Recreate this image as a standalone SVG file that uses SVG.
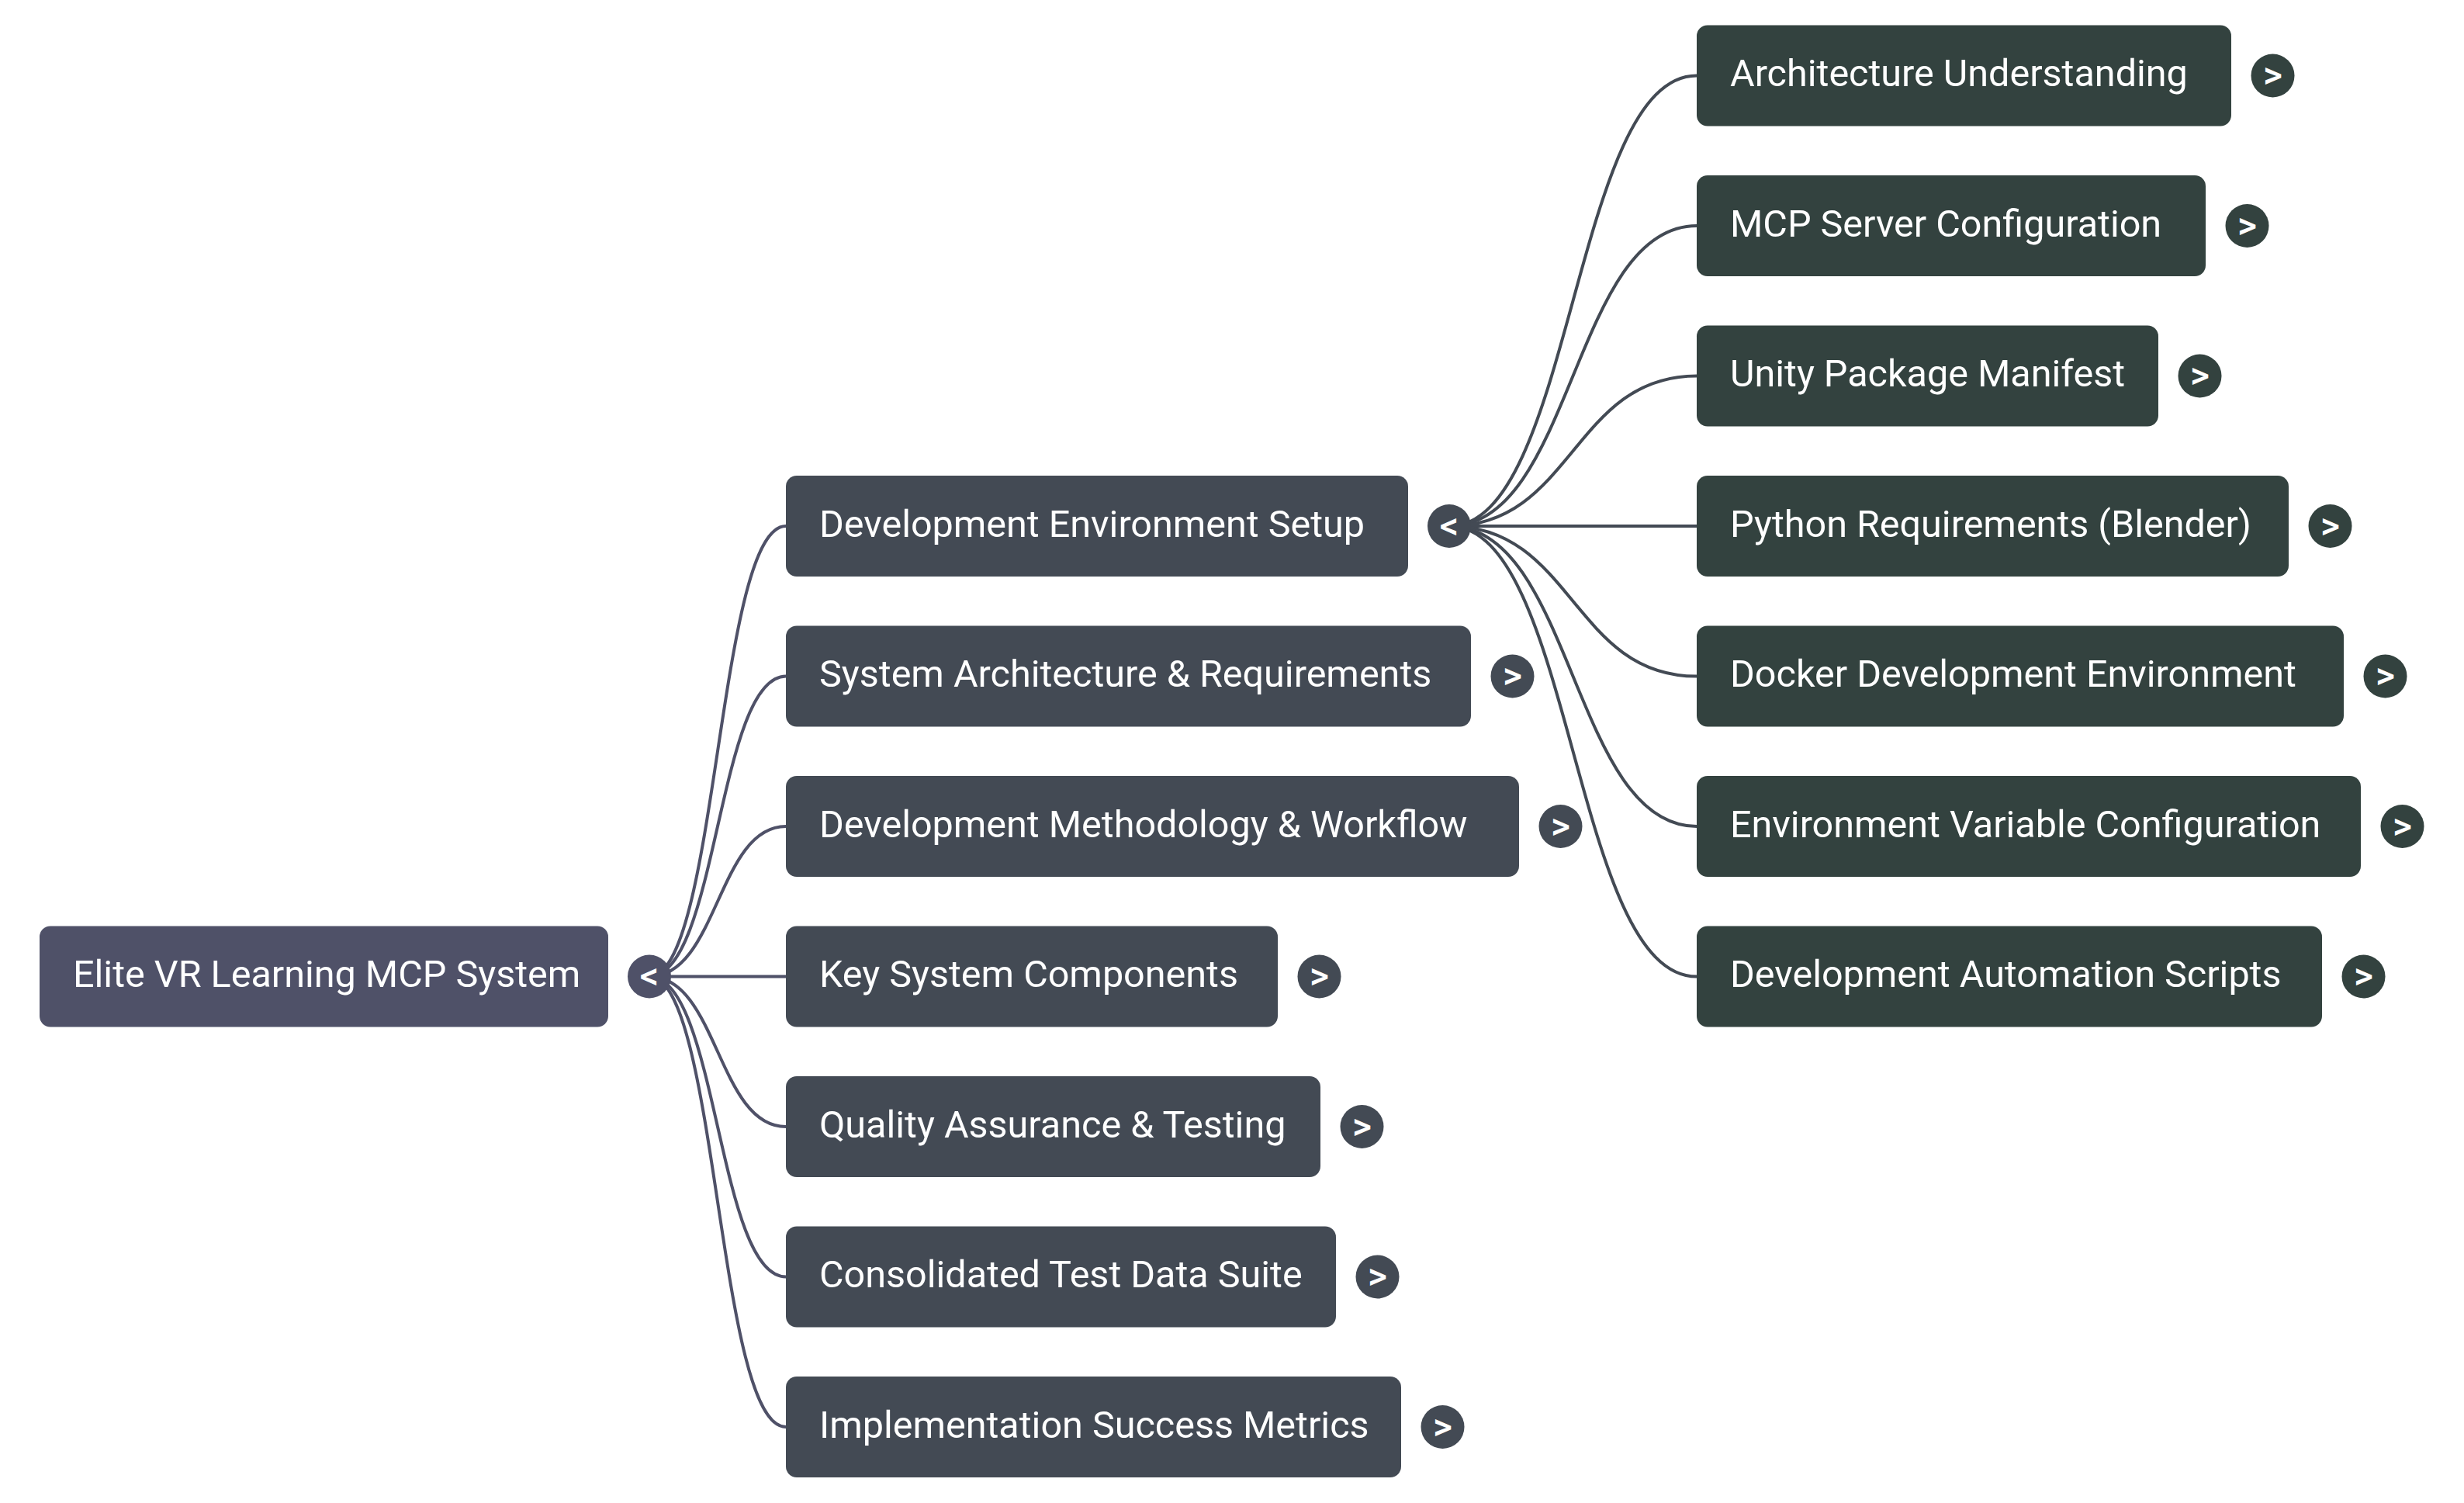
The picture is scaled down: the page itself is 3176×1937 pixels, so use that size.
<svg xmlns="http://www.w3.org/2000/svg" width="3176" height="1937" viewBox="0 0 3176 1937">
<style>
.lbl{font-family:Roboto,"Liberation Sans",sans-serif;font-size:48.5px;fill:#ffffff}
.tog{font-family:Roboto,"Liberation Sans",sans-serif;font-size:48px;font-weight:500;fill:#ffffff;text-anchor:middle}
.root{fill:#4f5168}
.mid{fill:#434a54}
.leaf{fill:#33423f}
.l-root{fill:none;stroke:#4f5168;stroke-width:4}
.l-mid{fill:none;stroke:#434a54;stroke-width:4}
</style>
<rect width="3176" height="1937" fill="#ffffff"/>
<g id="connectors">
<path class="l-root" d="M837 1258.5 C925 1258.5 925 678 1013 678"/>
<path class="l-root" d="M837 1258.5 C925 1258.5 925 871.5 1013 871.5"/>
<path class="l-root" d="M837 1258.5 C925 1258.5 925 1065 1013 1065"/>
<path class="l-root" d="M837 1258.5 L1013 1258.5"/>
<path class="l-root" d="M837 1258.5 C925 1258.5 925 1452 1013 1452"/>
<path class="l-root" d="M837 1258.5 C925 1258.5 925 1645.5 1013 1645.5"/>
<path class="l-root" d="M837 1258.5 C925 1258.5 925 1839 1013 1839"/>
<path class="l-mid" d="M1868 678 C2027.5 678 2027.5 97.5 2187 97.5"/>
<path class="l-mid" d="M1868 678 C2027.5 678 2027.5 291 2187 291"/>
<path class="l-mid" d="M1868 678 C2027.5 678 2027.5 484.5 2187 484.5"/>
<path class="l-mid" d="M1868 678 L2187 678"/>
<path class="l-mid" d="M1868 678 C2027.5 678 2027.5 871.5 2187 871.5"/>
<path class="l-mid" d="M1868 678 C2027.5 678 2027.5 1065 2187 1065"/>
<path class="l-mid" d="M1868 678 C2027.5 678 2027.5 1258.5 2187 1258.5"/>
</g>
<g id="root-node">
<rect class="root" x="51" y="1193.5" width="733" height="130" rx="14"/>
<text class="lbl" x="94" y="1272">Elite VR Learning MCP System</text>
<circle class="root" cx="837" cy="1258.5" r="28"/>
<text class="tog" x="837" y="1274">&lt;</text>
</g>
<g id="n-devenv">
<rect class="mid" x="1013" y="613" width="802" height="130" rx="14"/>
<text class="lbl" x="1056" y="691.5">Development Environment Setup</text>
<circle class="mid" cx="1868" cy="678" r="28"/>
<text class="tog" x="1868" y="693.5">&lt;</text>
</g>
<g id="n-sysarch">
<rect class="mid" x="1013" y="806.5" width="883" height="130" rx="14"/>
<text class="lbl" x="1056" y="885">System Architecture &amp; Requirements</text>
<circle class="mid" cx="1949.5" cy="871.5" r="28"/>
<text class="tog" x="1949.5" y="887">&gt;</text>
</g>
<g id="n-devmethod">
<rect class="mid" x="1013" y="1000" width="945" height="130" rx="14"/>
<text class="lbl" x="1056" y="1078.5">Development Methodology &amp; Workflow</text>
<circle class="mid" cx="2011.5" cy="1065" r="28"/>
<text class="tog" x="2011.5" y="1080.5">&gt;</text>
</g>
<g id="n-keysys">
<rect class="mid" x="1013" y="1193.5" width="634" height="130" rx="14"/>
<text class="lbl" x="1056" y="1272">Key System Components</text>
<circle class="mid" cx="1700.5" cy="1258.5" r="28"/>
<text class="tog" x="1700.5" y="1274">&gt;</text>
</g>
<g id="n-qa">
<rect class="mid" x="1013" y="1387" width="689" height="130" rx="14"/>
<text class="lbl" x="1056" y="1465.5">Quality Assurance &amp; Testing</text>
<circle class="mid" cx="1755.5" cy="1452" r="28"/>
<text class="tog" x="1755.5" y="1467.5">&gt;</text>
</g>
<g id="n-testdata">
<rect class="mid" x="1013" y="1580.5" width="709" height="130" rx="14"/>
<text class="lbl" x="1056" y="1659">Consolidated Test Data Suite</text>
<circle class="mid" cx="1775.5" cy="1645.5" r="28"/>
<text class="tog" x="1775.5" y="1661">&gt;</text>
</g>
<g id="n-metrics">
<rect class="mid" x="1013" y="1774" width="793" height="130" rx="14"/>
<text class="lbl" x="1056" y="1852.5">Implementation Success Metrics</text>
<circle class="mid" cx="1859.5" cy="1839" r="28"/>
<text class="tog" x="1859.5" y="1854.5">&gt;</text>
</g>
<g id="n-arch">
<rect class="leaf" x="2187" y="32.5" width="689" height="130" rx="14"/>
<text class="lbl" x="2230" y="111">Architecture Understanding</text>
<circle class="leaf" cx="2929.5" cy="97.5" r="28"/>
<text class="tog" x="2929.5" y="113">&gt;</text>
</g>
<g id="n-mcp">
<rect class="leaf" x="2187" y="226" width="656" height="130" rx="14"/>
<text class="lbl" x="2230" y="304.5">MCP Server Configuration</text>
<circle class="leaf" cx="2896.5" cy="291" r="28"/>
<text class="tog" x="2896.5" y="306.5">&gt;</text>
</g>
<g id="n-unity">
<rect class="leaf" x="2187" y="419.5" width="595" height="130" rx="14"/>
<text class="lbl" x="2230" y="498">Unity Package Manifest</text>
<circle class="leaf" cx="2835.5" cy="484.5" r="28"/>
<text class="tog" x="2835.5" y="500">&gt;</text>
</g>
<g id="n-python">
<rect class="leaf" x="2187" y="613" width="763" height="130" rx="14"/>
<text class="lbl" x="2230" y="691.5">Python Requirements (Blender)</text>
<circle class="leaf" cx="3003.5" cy="678" r="28"/>
<text class="tog" x="3003.5" y="693.5">&gt;</text>
</g>
<g id="n-docker">
<rect class="leaf" x="2187" y="806.5" width="834" height="130" rx="14"/>
<text class="lbl" x="2230" y="885">Docker Development Environment</text>
<circle class="leaf" cx="3074.5" cy="871.5" r="28"/>
<text class="tog" x="3074.5" y="887">&gt;</text>
</g>
<g id="n-envvar">
<rect class="leaf" x="2187" y="1000" width="856" height="130" rx="14"/>
<text class="lbl" x="2230" y="1078.5">Environment Variable Configuration</text>
<circle class="leaf" cx="3096.5" cy="1065" r="28"/>
<text class="tog" x="3096.5" y="1080.5">&gt;</text>
</g>
<g id="n-scripts">
<rect class="leaf" x="2187" y="1193.5" width="806" height="130" rx="14"/>
<text class="lbl" x="2230" y="1272">Development Automation Scripts</text>
<circle class="leaf" cx="3046.5" cy="1258.5" r="28"/>
<text class="tog" x="3046.5" y="1274">&gt;</text>
</g>
</svg>
